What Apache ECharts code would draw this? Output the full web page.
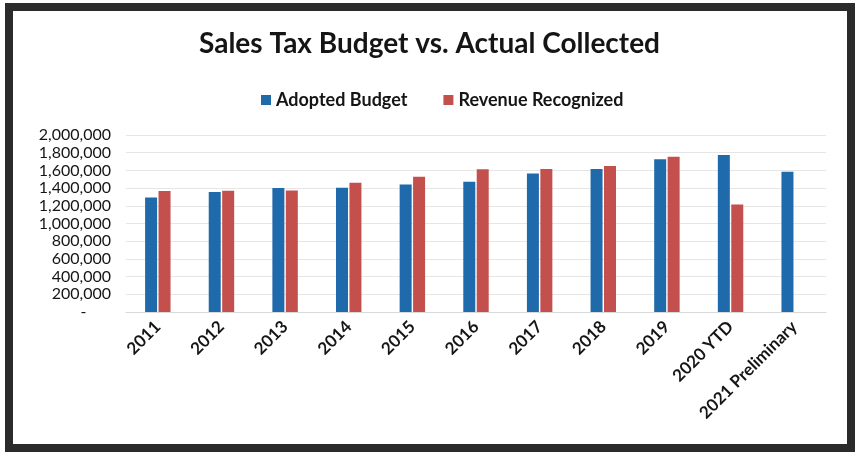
<!DOCTYPE html>
<html>
<head>
<meta charset="utf-8">
<script src="https://cdn.jsdelivr.net/npm/echarts@6/dist/echarts.min.js"></script>
<style>
  html, body { margin: 0; padding: 0; background: #ffffff; }
  #chart { width: 859px; height: 455px; }
</style>
</head>
<body>
<div id="chart"></div>
<script>
// Fiscal years shown on the category axis
const years = ['2011', '2012', '2013', '2014', '2015', '2016', '2017', '2018', '2019', '2020 YTD', '2021 Preliminary'];

// Sales tax amounts per year
const adoptedBudget = [1295000, 1355000, 1400000, 1404000, 1442000, 1471000, 1566000, 1615000, 1725000, 1773000, 1585000];
const revenueRecognized = [1366000, 1370000, 1374000, 1460000, 1528000, 1612000, 1615000, 1649000, 1754000, 1215000, null];

// Value-axis ticks
const yTicks = [0, 200000, 400000, 600000, 800000, 1000000, 1200000, 1400000, 1600000, 1800000, 2000000];

const chart = echarts.init(document.getElementById('chart'), null, { renderer: 'canvas' });

const font = 'Lato, "Open Sans", sans-serif';

chart.setOption({
  backgroundColor: '#ffffff',
  animation: false,
  title: {
    text: 'Sales Tax Budget vs. Actual Collected',
    left: 'center',
    top: 25,
    textStyle: { fontFamily: font, fontWeight: 'bold', fontSize: 28, color: '#151515' }
  },
  legend: {
    top: 86,
    left: 256,
    itemWidth: 10,
    itemHeight: 10,
    itemGap: 36,
    icon: 'rect',
    textStyle: { fontFamily: font, fontWeight: 'bold', fontSize: 18, color: '#151515' },
    data: ['Adopted Budget', 'Revenue Recognized']
  },
  grid: { left: 126, right: 33, top: 135, bottom: 143, containLabel: false },
  xAxis: {
    type: 'category',
    data: years,
    axisTick: { show: false },
    axisLine: { show: true, lineStyle: { color: '#d9d9d9' } },
    axisLabel: {
      rotate: 45,
      interval: 0,
      margin: 12,
      fontFamily: font,
      fontWeight: 'bold',
      fontSize: 17,
      color: '#151515'
    }
  },
  yAxis: {
    type: 'value',
    min: yTicks[0],
    max: yTicks[yTicks.length - 1],
    interval: yTicks[1] - yTicks[0],
    axisLine: { show: false },
    axisTick: { show: false },
    splitLine: { lineStyle: { color: '#e6e6e6', width: 1 } },
    axisLabel: {
      margin: 15,
      fontFamily: font,
      fontSize: 16,
      color: '#151515',
      formatter: v => v === 0 ? '-      ' : v.toLocaleString('en-US')
    }
  },
  series: [
    {
      name: 'Adopted Budget',
      type: 'bar',
      data: adoptedBudget,
      barWidth: 12,
      barGap: '12%',
      itemStyle: { color: '#1f6aab' }
    },
    {
      name: 'Revenue Recognized',
      type: 'bar',
      data: revenueRecognized,
      barWidth: 12,
      barGap: '12%',
      itemStyle: { color: '#c4504e' }
    }
  ],
  graphic: [
    {
      type: 'rect',
      shape: { x: 9, y: 7, width: 842, height: 441 },
      style: { fill: 'none', stroke: '#2b2b2b', lineWidth: 8 },
      z: 100
    }
  ]
});
</script>
</body>
</html>
